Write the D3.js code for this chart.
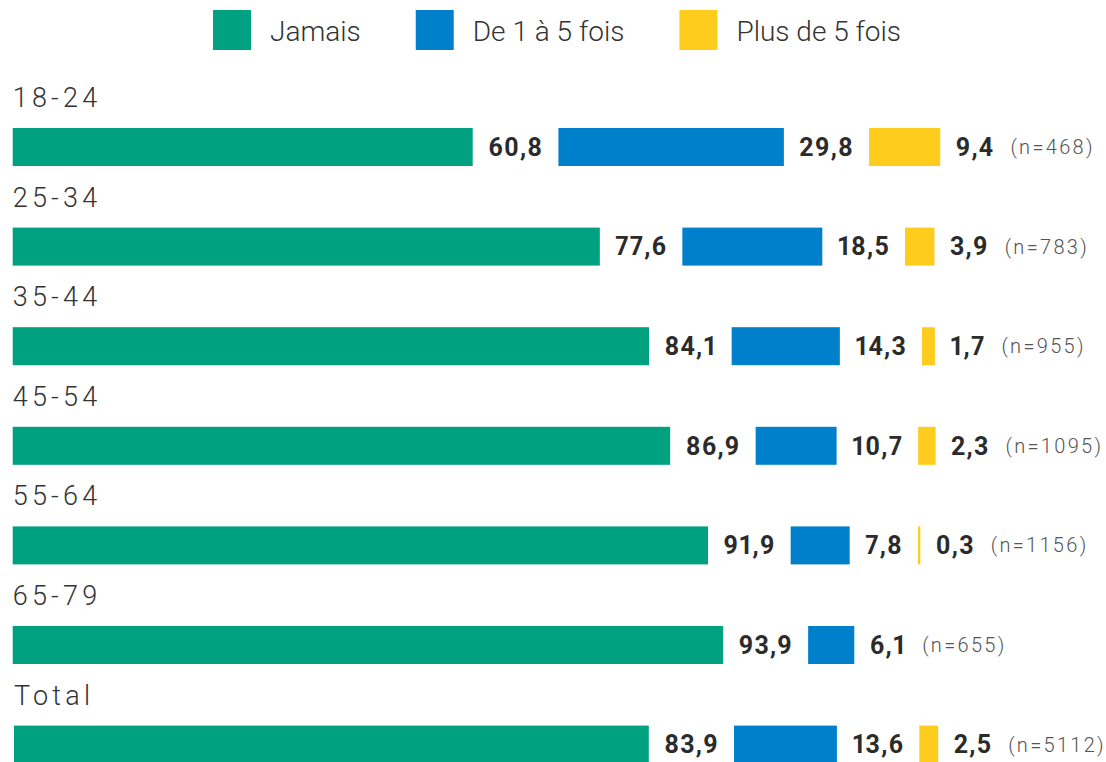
<!DOCTYPE html>
<html>
<head>
<meta charset="utf-8">
<script src="https://cdn.jsdelivr.net/npm/d3@7"></script>
<style>
  body { margin: 0; background: #fff; }
  svg { display: block; }
  .val { font-variant-numeric: proportional-nums; font-feature-settings: "pnum" 1; }
</style>
</head>
<body>
<div id="chart"></div>
<script>
// data
var groups = ["18-24", "25-34", "35-44", "45-54", "55-64", "65-79", "Total"];
var series = ["Jamais", "De 1 à 5 fois", "Plus de 5 fois"];
var jamais = [60.8, 77.6, 84.1, 86.9, 91.9, 93.9, 83.9];
var unACinq = [29.8, 18.5, 14.3, 10.7, 7.8, 6.1, 13.6];
var plusDeCinq = [9.4, 3.9, 1.7, 2.3, 0.3, null, 2.5];
var effectifs = [468, 783, 955, 1095, 1156, 655, 5112];
var colors = ["#00a181", "#0080cb", "#fecc1c"];

var width = 1106, height = 762;

var svg = d3.select("#chart")
  .append("svg")
    .attr("width", width)
    .attr("height", height);

var x = d3.scaleLinear()
  .domain([0, 100])
  .range([0, 756.6]);

var y = d3.scaleBand()
  .domain(groups)
  .range([70, 70 + 99.6 * groups.length]);

var fmt = function(v) { return d3.format(".1f")(v).replace(".", ","); };

// legend
var legend = svg.append("g");
var lx = 0;
series.forEach(function(s, i) {
  var g = legend.append("g").attr("transform", "translate(" + lx + ",0)");
  g.append("rect")
    .attr("x", 0).attr("y", 10)
    .attr("width", 38).attr("height", 40)
    .attr("fill", colors[i]);
  var t = g.append("text")
    .attr("x", 57).attr("y", 41)
    .attr("font-family", "Roboto")
    .attr("font-weight", 300)
    .attr("font-size", 28)
    .attr("fill", "#333")
    .text(s);
  lx += 57 + t.node().getComputedTextLength() + 55;
});
lx -= 55;
legend.attr("transform", "translate(" + (557 - lx / 2) + ",0)");

// rows
var rows = svg.selectAll("g.row")
  .data(groups)
  .enter().append("g")
    .attr("class", "row")
    .attr("transform", function(d, i) {
      var dx = d === "Total" ? 14 : 12.7;
      return "translate(" + dx + "," + y(d) + ")";
    });

rows.append("text")
  .attr("x", 0)
  .attr("y", 37)
  .attr("font-family", "Roboto")
  .attr("font-weight", 300)
  .attr("font-size", 27)
  .attr("letter-spacing", 4.2)
  .attr("fill", "#333")
  .text(function(d) { return d; });

var barTop = 58, barH = 38;

rows.each(function(d, i) {
  var g = d3.select(this);
  var vals = [jamais[i], unACinq[i], plusDeCinq[i]];
  var cx = 0;
  vals.forEach(function(v, k) {
    if (v == null) return;
    var w = x(v);
    g.append("rect")
      .attr("x", cx)
      .attr("y", barTop)
      .attr("width", w)
      .attr("height", barH)
      .attr("fill", colors[k]);
    cx += w + 15.5;
    var t = g.append("text")
      .attr("class", "val")
      .attr("x", cx)
      .attr("y", barTop + barH / 2)
      .attr("dy", "0.35em")
      .attr("font-family", "Roboto")
      .attr("font-weight", 700)
      .attr("font-size", 25)
      .attr("letter-spacing", 1.2)
      .attr("fill", "#2b2b2b")
      .text(fmt(v));
    cx += t.node().getComputedTextLength() + 15;
  });
  g.append("text")
    .attr("x", cx + 1)
    .attr("y", barTop + barH / 2)
    .attr("dy", "0.35em")
    .attr("font-family", "Roboto")
    .attr("font-weight", 300)
    .attr("font-size", 20)
    .attr("letter-spacing", 2.3)
    .attr("fill", "#555")
    .text("(n=" + effectifs[i] + ")");
});
</script>
</body>
</html>
